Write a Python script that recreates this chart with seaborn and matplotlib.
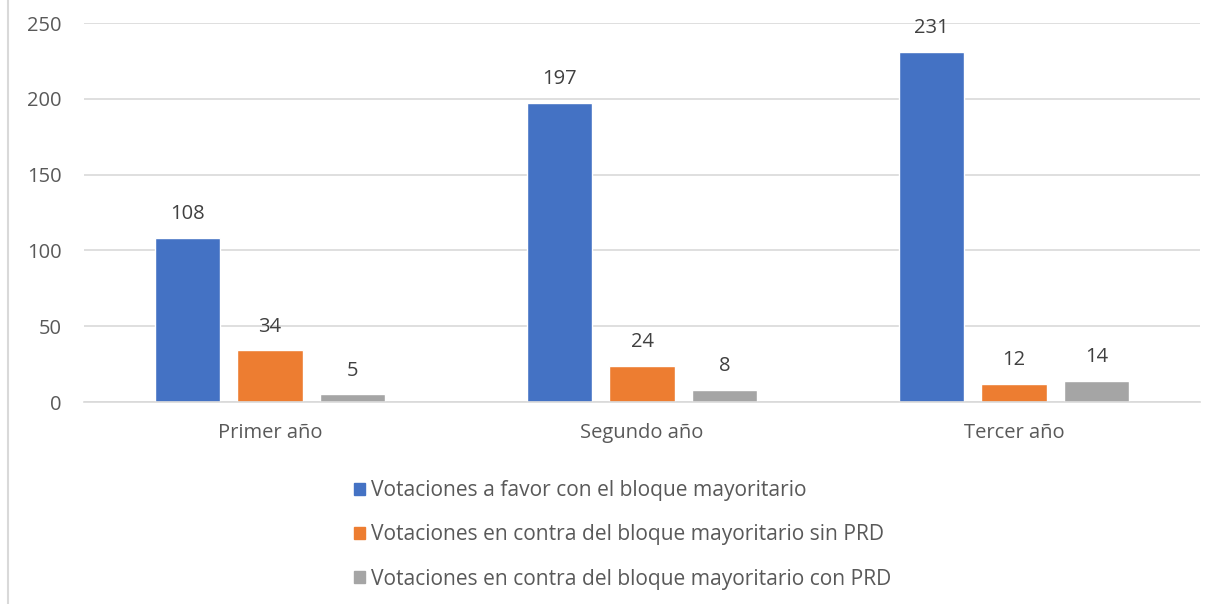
import matplotlib
matplotlib.use("Agg")
import matplotlib.pyplot as plt
import seaborn as sns
import pandas as pd
from matplotlib.lines import Line2D

years = ["Primer año", "Segundo año", "Tercer año"]
series = [
    "Votaciones a favor con el bloque mayoritario",
    "Votaciones en contra del bloque mayoritario sin PRD",
    "Votaciones en contra del bloque mayoritario con PRD",
]
a_favor = [108, 197, 231]
contra_sin_prd = [34, 24, 12]
contra_con_prd = [5, 8, 14]
colors = ["#4472C4", "#ED7D31", "#A5A5A5"]

df = pd.DataFrame({
    "year": years * 3,
    "serie": [series[0]] * 3 + [series[1]] * 3 + [series[2]] * 3,
    "value": a_favor + contra_sin_prd + contra_con_prd,
})

sns.set_style("white")
plt.rcParams["font.family"] = ["Open Sans", "DejaVu Sans"]
text_color = "#595959"
fs = 14.5

fig = plt.figure(figsize=(12.15, 6.04), dpi=100)
ax = fig.add_axes([0.0691, 0.3344, 0.9186, 0.6275])

sns.barplot(data=df, x="year", y="value", hue="serie", palette=colors,
            width=0.665, gap=0.21, ax=ax, legend=False, saturation=1)

for cont in ax.containers:
    ax.bar_label(cont, padding=10, fontsize=fs, color="#404040")

ax.set_ylim(0, 250)
ax.set_xlim(-0.5, 2.5)
ax.set_yticks([0, 50, 100, 150, 200, 250])
ax.yaxis.grid(True, color="#d9d9d9", linewidth=1.2)
ax.set_axisbelow(True)
for s in ["top", "right", "left"]:
    ax.spines[s].set_visible(False)
ax.spines["bottom"].set_color("#d9d9d9")
ax.spines["bottom"].set_linewidth(1.2)
ax.tick_params(axis="both", length=0, labelsize=fs, colors=text_color)
ax.tick_params(axis="y", pad=16)
ax.tick_params(axis="x", pad=15)
ax.set_xlabel("")
ax.set_ylabel("")

handles = [plt.Rectangle((0, 0), 1, 1, color=c) for c in colors]
leg = fig.legend(handles, series, loc="upper left", bbox_to_anchor=(0.2846, 0.2185),
                 frameon=False, fontsize=15.1, handlelength=0.53, handleheight=0.53,
                 handletextpad=0.28, labelspacing=1.1, borderaxespad=0)
for t in leg.get_texts():
    t.set_color(text_color)

fig.add_artist(Line2D([0.0066, 0.0066], [0, 1], transform=fig.transFigure,
                      color="#d9d9d9", linewidth=1.5))

fig.savefig("out.png", dpi=100)
